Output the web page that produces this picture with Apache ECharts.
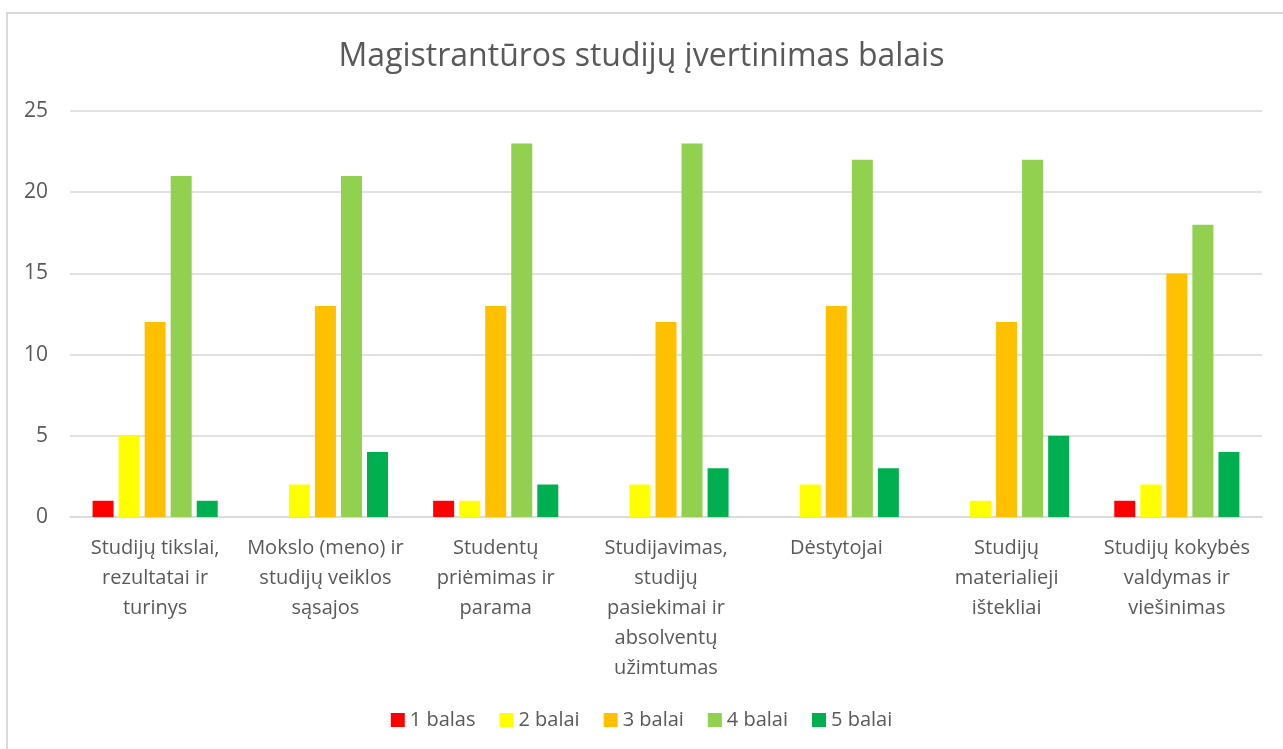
<!DOCTYPE html>
<html>
<head>
<meta charset="utf-8">
<script src="https://cdn.jsdelivr.net/npm/echarts@6/dist/echarts.min.js"></script>
<style>
  html, body { margin: 0; padding: 0; background: #fff; }
  #main { width: 1283px; height: 749px; }
  #frame { position: absolute; left: 6px; top: 12px; width: 1290px; height: 760px;
           border: 2px solid #d9d9d9; box-sizing: border-box; pointer-events: none; }
</style>
</head>
<body>
<div id="main"></div>
<div id="frame"></div>
<script>
// kategorijos ir reikšmės
var categories = [
  'Studijų tikslai,\nrezultatai ir\nturinys',
  'Mokslo (meno) ir\nstudijų veiklos\nsąsajos',
  'Studentų\npriėmimas ir\nparama',
  'Studijavimas,\nstudijų\npasiekimai ir\nabsolventų\nužimtumas',
  'Dėstytojai',
  'Studijų\nmaterialieji\ništekliai',
  'Studijų kokybės\nvaldymas ir\nviešinimas'
];
var seriesNames = ['1 balas', '2 balai', '3 balai', '4 balai', '5 balai'];
var balas1 = [1, 0, 1, 0, 0, 0, 1];
var balai2 = [5, 2, 1, 2, 2, 1, 2];
var balai3 = [12, 13, 13, 12, 13, 12, 15];
var balai4 = [21, 21, 23, 23, 22, 22, 18];
var balai5 = [1, 4, 2, 3, 3, 5, 4];
var colors = ['#FF0000', '#FFFF00', '#FFC000', '#92D050', '#00B050'];

var allData = [balas1, balai2, balai3, balai4, balai5];

var chart = echarts.init(document.getElementById('main'));

var series = [];
for (var i = 0; i < seriesNames.length; i++) {
  series.push({
    name: seriesNames[i],
    type: 'bar',
    data: allData[i].map(function (v) { return v === 0 ? null : v; }),
    barWidth: 21,
    barGap: '24%',
    itemStyle: { color: colors[i] }
  });
}

var option = {
  backgroundColor: '#ffffff',
  color: colors,
  animation: false,
  textStyle: { fontFamily: 'Open Sans' },
  title: {
    text: 'Magistrantūros studijų įvertinimas balais',
    left: 'center',
    top: 36,
    textStyle: { fontSize: 32, fontWeight: 'normal', color: '#595959', fontFamily: 'Open Sans' }
  },
  legend: {
    top: 705,
    left: 'center',
    icon: 'rect',
    itemWidth: 14,
    itemHeight: 14,
    itemGap: 24,
    textStyle: { fontSize: 20, color: '#595959' },
    data: seriesNames
  },
  grid: { left: 70, right: 21, top: 111, bottom: 232 },
  xAxis: {
    type: 'category',
    data: categories,
    axisTick: { show: false },
    axisLine: { lineStyle: { color: '#d9d9d9', width: 1.5 } },
    axisLabel: { interval: 0, fontSize: 20, lineHeight: 30, color: '#595959', margin: 16 }
  },
  yAxis: {
    type: 'value',
    min: 0,
    max: 25,
    interval: 5,
    axisLine: { show: false },
    axisTick: { show: false },
    splitLine: { lineStyle: { color: '#d9d9d9', width: 1.5 } },
    axisLabel: { fontSize: 21, color: '#595959', margin: 22 }
  },
  series: series
};

chart.setOption(option);
</script>
</body>
</html>
